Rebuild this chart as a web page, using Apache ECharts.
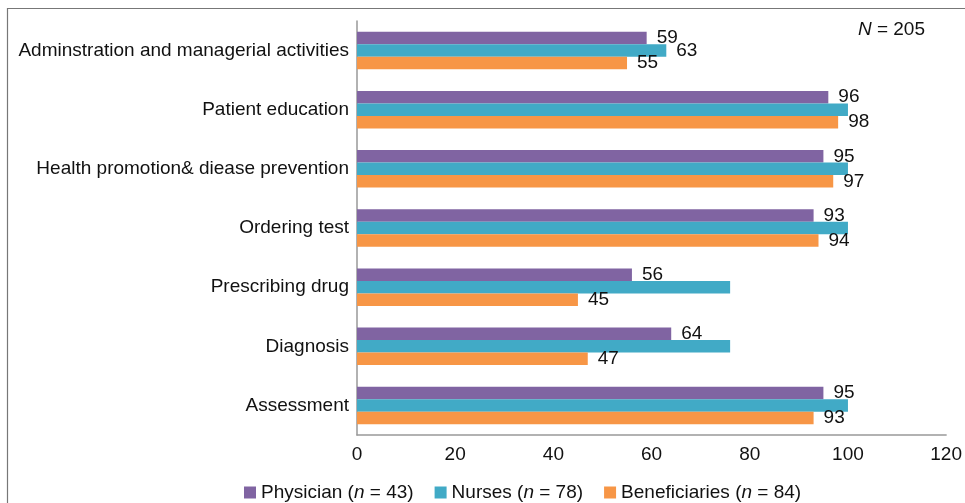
<!DOCTYPE html>
<html>
<head>
<meta charset="utf-8">
<script src="https://cdn.jsdelivr.net/npm/echarts@6/dist/echarts.min.js"></script>
<style>html,body{margin:0;padding:0;background:#fff;}#c{width:965px;height:503px;}</style>
</head>
<body>
<div id="c"></div>
<script>
const categories = ['Adminstration and managerial activities', 'Patient education', 'Health promotion& diease prevention', 'Ordering test', 'Prescribing drug', 'Diagnosis', 'Assessment'];
const physician = [59, 96, 95, 93, 56, 64, 95];
const nurses = [63, 100, 100, 100, 76, 76, 100];
const beneficiaries = [55, 98, 97, 94, 45, 47, 93];
const nursesLabelShown = [true, false, false, false, false, false, false];
const xTicks = [0, 20, 40, 60, 80, 100, 120];

const FONT = '"Liberation Sans", Arial, sans-serif';
const FS = 19;
const LFS = 19;
const chart = echarts.init(document.getElementById('c'));
const lbl = {show: true, position: 'right', distance: 10, color: '#111', fontSize: FS, fontFamily: FONT};

chart.setOption({
  animation: false,
  textStyle: {fontFamily: FONT},
  graphic: [
    {type: 'polyline', shape: {points: [[7.5, 503], [7.5, 8.5], [965, 8.5]]}, style: {stroke: '#777', lineWidth: 1.2, fill: null}},
    {type: 'text', right: 40, top: 20, style: {text: '{i|N} = 205', rich: {i: {fontStyle: 'italic', fontSize: FS, fontFamily: FONT, fill: '#111'}}, fontSize: FS, fontFamily: FONT, fill: '#111'}}
  ],
  grid: {left: 357, right: 16, top: 21, bottom: 68, containLabel: false},
  legend: {
    left: 239, top: 478, itemWidth: 12, itemHeight: 12, itemGap: 21, icon: 'rect',
    textStyle: {fontSize: LFS, color: '#111', fontFamily: FONT, rich: {i: {fontStyle: 'italic', fontSize: LFS, fontFamily: FONT, color: '#111'}}},
    formatter: function (name) {
      const m = name.match(/^(.*)\((n) = (\d+)\)$/);
      return m ? m[1] + '({i|n} = ' + m[3] + ')' : name;
    }
  },
  xAxis: {
    type: 'value', min: 0, max: 120, interval: 20,
    axisLine: {show: true, lineStyle: {color: '#999', width: 1.5}},
    axisTick: {show: false},
    splitLine: {show: false},
    axisLabel: {color: '#111', fontSize: FS, margin: 10, fontFamily: FONT,
      customValues: xTicks}
  },
  yAxis: {
    type: 'category', data: categories, inverse: true,
    axisLine: {show: true, lineStyle: {color: '#999', width: 1.5}},
    axisTick: {show: false},
    axisLabel: {color: '#111', fontSize: FS, margin: 8, fontFamily: FONT}
  },
  series: [
    {name: 'Physician (n = 43)', type: 'bar', data: physician, barWidth: 12.5, barGap: '0%', itemStyle: {color: '#8064A2'}, label: lbl},
    {name: 'Nurses (n = 78)', type: 'bar', barWidth: 12.5, barGap: '0%', itemStyle: {color: '#41AAC6'},
      data: nurses.map((v, i) => ({value: v, label: {show: nursesLabelShown[i]}})), label: lbl},
    {name: 'Beneficiaries (n = 84)', type: 'bar', data: beneficiaries, barWidth: 12.5, barGap: '0%', itemStyle: {color: '#F79646'}, label: lbl}
  ]
});
</script>
</body>
</html>
